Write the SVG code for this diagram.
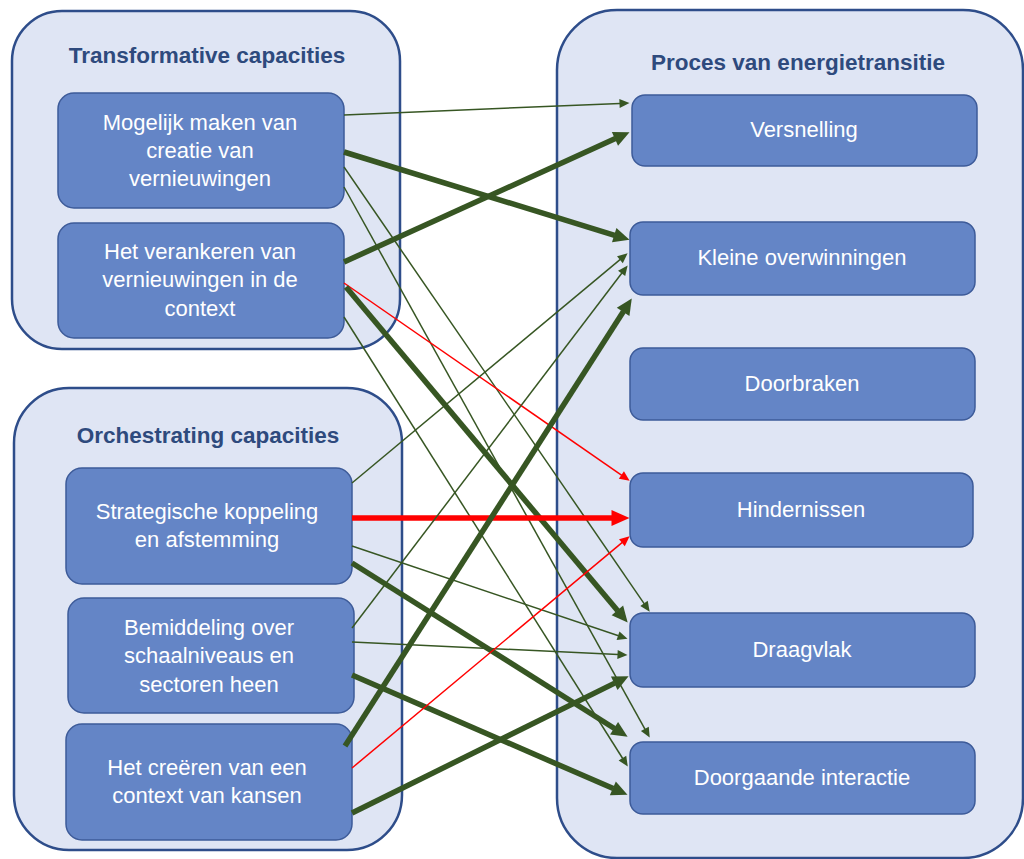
<svg xmlns="http://www.w3.org/2000/svg" width="1024" height="859" viewBox="0 0 1024 859">
<style>
.cont{fill:#dfe5f4;stroke:#2e4d8a;stroke-width:2.5}
.node{fill:#6485c6;stroke:#3d5b99;stroke-width:1.5}
.title{font-family:"Liberation Sans",Arial,sans-serif;font-weight:bold;font-size:22.5px;fill:#2e4a7d;text-anchor:middle}
.lbl{font-family:"Liberation Sans",Arial,sans-serif;font-size:22px;fill:#ffffff;text-anchor:middle}
.g1{stroke:#375623;stroke-width:1.5;fill:none;marker-end:url(#ag1)}
.g5{stroke:#375623;stroke-width:5.5;fill:none;marker-end:url(#ag5)}
.r1{stroke:#ff0000;stroke-width:1.5;fill:none;marker-end:url(#ar1)}
.r5{stroke:#ff0000;stroke-width:5.5;fill:none;marker-end:url(#ar5)}
</style>
<defs>
<marker id="ag1" markerUnits="userSpaceOnUse" orient="auto" markerWidth="11" markerHeight="10" refX="0.5" refY="4.5" overflow="visible"><path d="M0,0 L10,4.5 L0,9 z" fill="#375623"/></marker>
<marker id="ag5" markerUnits="userSpaceOnUse" orient="auto" markerWidth="17" markerHeight="15" refX="0.5" refY="7.5" overflow="visible"><path d="M0,0 L16,7.5 L0,15 z" fill="#375623"/></marker>
<marker id="ar1" markerUnits="userSpaceOnUse" orient="auto" markerWidth="11" markerHeight="10" refX="0.5" refY="4.5" overflow="visible"><path d="M0,0 L10,4.5 L0,9 z" fill="#ff0000"/></marker>
<marker id="ar5" markerUnits="userSpaceOnUse" orient="auto" markerWidth="19" markerHeight="17" refX="0.5" refY="8" overflow="visible"><path d="M0,0 L18,8 L0,16 z" fill="#ff0000"/></marker>
</defs>

<g id="group-transformative">
<rect class="cont" x="12" y="11" width="388" height="338" rx="50"/>
<text class="title" x="207" y="63">Transformative capacities</text>
</g>
<g id="group-orchestrating">
<rect class="cont" x="14" y="388" width="388" height="462" rx="55"/>
<text class="title" x="208" y="443">Orchestrating capacities</text>
</g>
<g id="group-proces">
<rect class="cont" x="557" y="10" width="466" height="848" rx="60"/>
<text class="title" x="798" y="70">Proces van energietransitie</text>
</g>

<g id="n-mogelijk">
<rect class="node" x="58" y="93" width="286" height="115" rx="16"/>
<text class="lbl" x="200" y="130">Mogelijk maken van</text>
<text class="lbl" x="200" y="158">creatie van</text>
<text class="lbl" x="200" y="186">vernieuwingen</text>
</g>
<g id="n-verankeren">
<rect class="node" x="58" y="223" width="286" height="115" rx="16"/>
<text class="lbl" x="200" y="259">Het verankeren van</text>
<text class="lbl" x="200" y="287">vernieuwingen in de</text>
<text class="lbl" x="200" y="316">context</text>
</g>
<g id="n-strategische">
<rect class="node" x="66" y="468" width="286" height="116" rx="16"/>
<text class="lbl" x="207" y="519">Strategische koppeling</text>
<text class="lbl" x="207" y="547">en afstemming</text>
</g>
<g id="n-bemiddeling">
<rect class="node" x="68" y="598" width="286" height="115" rx="16"/>
<text class="lbl" x="209" y="635">Bemiddeling over</text>
<text class="lbl" x="209" y="663">schaalniveaus en</text>
<text class="lbl" x="209" y="692">sectoren heen</text>
</g>
<g id="n-creeren">
<rect class="node" x="66" y="724" width="286" height="116" rx="16"/>
<text class="lbl" x="207" y="775">Het creëren van een</text>
<text class="lbl" x="207" y="803">context van kansen</text>
</g>

<g id="n-versnelling">
<rect class="node" x="632" y="95" width="345" height="71" rx="13"/>
<text class="lbl" x="804" y="137">Versnelling</text>
</g>
<g id="n-kleine">
<rect class="node" x="630" y="222" width="345" height="73" rx="13"/>
<text class="lbl" x="802" y="265">Kleine overwinningen</text>
</g>
<g id="n-doorbraken">
<rect class="node" x="630" y="348" width="345" height="72" rx="13"/>
<text class="lbl" x="802" y="391">Doorbraken</text>
</g>
<g id="n-hindernissen">
<rect class="node" x="630" y="473" width="343" height="74" rx="13"/>
<text class="lbl" x="801" y="517">Hindernissen</text>
</g>
<g id="n-draagvlak">
<rect class="node" x="630" y="613" width="345" height="74" rx="13"/>
<text class="lbl" x="802" y="657">Draagvlak</text>
</g>
<g id="n-doorgaande">
<rect class="node" x="630" y="742" width="345" height="72" rx="13"/>
<text class="lbl" x="802" y="785">Doorgaande interactie</text>
</g>

<g id="connectors">
<line class="g1" x1="344" y1="115" x2="620" y2="103.4"/>
<line class="g5" x1="344" y1="152" x2="614.7" y2="235.3"/>
<line class="g1" x1="344" y1="167" x2="644.3" y2="603.8"/>
<line class="g1" x1="344" y1="187" x2="645.1" y2="729.3"/>
<line class="g5" x1="344" y1="262" x2="615.4" y2="138.6"/>
<line class="r1" x1="344" y1="283" x2="621.8" y2="475.3"/>
<line class="g5" x1="346" y1="287" x2="617.7" y2="610.7"/>
<line class="g1" x1="344" y1="317" x2="622.7" y2="758.5"/>
<line class="g1" x1="352" y1="483" x2="620.3" y2="259.4"/>
<line class="r5" x1="352" y1="518" x2="612" y2="518"/>
<line class="g1" x1="352" y1="546" x2="618.5" y2="635.8"/>
<line class="g5" x1="352" y1="563" x2="614.5" y2="728.5"/>
<line class="g1" x1="352" y1="628" x2="621.9" y2="273"/>
<line class="g1" x1="352" y1="642" x2="618" y2="654.5"/>
<line class="g5" x1="352" y1="675" x2="613.3" y2="788.6"/>
<line class="g5" x1="345" y1="746" x2="623.4" y2="311.5"/>
<line class="r1" x1="352" y1="768" x2="622.3" y2="542.4"/>
<line class="g5" x1="352" y1="813" x2="614.7" y2="683.1"/>
</g>
</svg>
